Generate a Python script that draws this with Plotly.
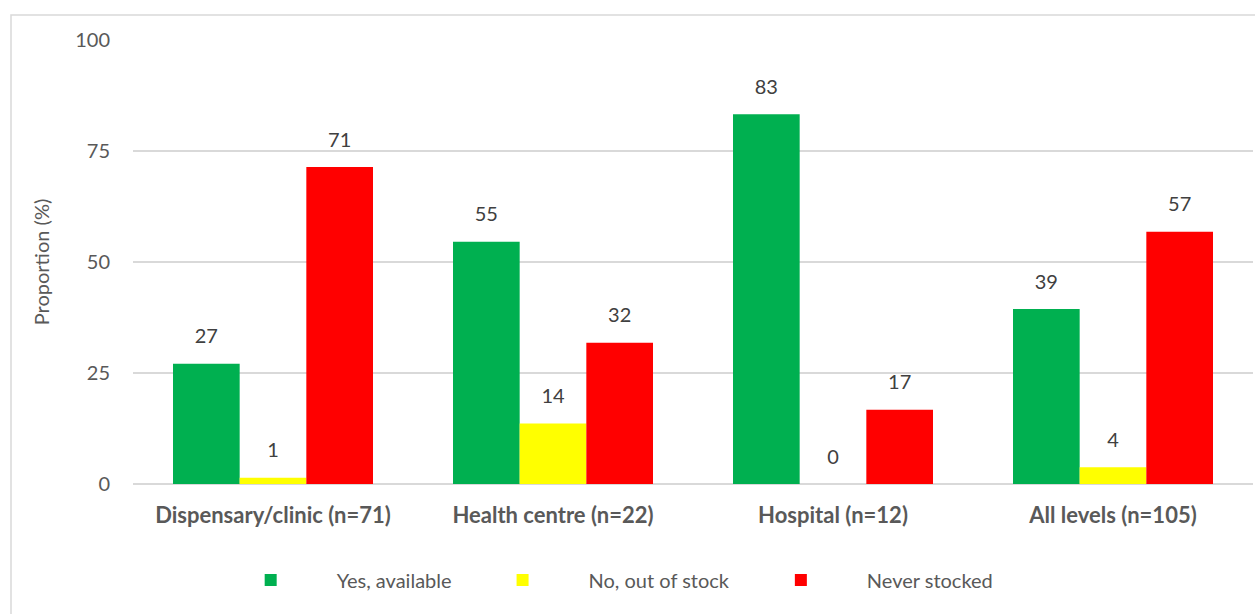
import plotly.graph_objects as go

# Facility levels and share of facilities (%) by stock status
categories = ["Dispensary/clinic (n=71)", "Health centre (n=22)", "Hospital (n=12)", "All levels (n=105)"]
series_names = ["Yes, available", "No, out of stock", "Never stocked"]
yes_available = [27.1, 54.55, 83.3, 39.4]
out_of_stock = [1.4, 13.6, 0.0, 3.8]
never_stocked = [71.4, 31.8, 16.7, 56.8]
series_values = [yes_available, out_of_stock, never_stocked]
series_colors = ["#00B050", "#FFFF00", "#FF0000"]
y_ticks = [0, 25, 50, 75, 100]

FONT = "Lato"
GREY = "#595959"
LABEL = "#404040"
GRID = "#D9D9D9"

fig = go.Figure()

for name, vals, color in zip(series_names, series_values, series_colors):
    fig.add_trace(go.Bar(
        x=categories, y=vals, name=name,
        marker=dict(color=color, line=dict(width=0)),
        offsetgroup=name,
    ))

# value labels, grouped the same way as the bars
for name, vals in zip(series_names, series_values):
    fig.add_trace(go.Scatter(
        x=categories, y=vals, mode="markers+text",
        text=[f"{v:.0f}" for v in vals], textposition="top center",
        textfont=dict(family=FONT, size=20, color=LABEL),
        marker=dict(size=23, opacity=0),
        offsetgroup=name, showlegend=False, hoverinfo="skip",
    ))

fig.update_layout(
    width=1255, height=614,
    margin=dict(l=133, r=2, t=40, b=130),
    paper_bgcolor="white", plot_bgcolor="white",
    barmode="group", bargap=0.2857, bargroupgap=0,
    scattermode="group", scattergap=0.2857,
    font=dict(family=FONT, color=GREY, size=20),
    showlegend=True,
    legend=dict(
        orientation="h", x=0.064, xanchor="left", y=-0.216, yanchor="middle",
        font=dict(family=FONT, size=20, color=GREY),
        itemwidth=122, traceorder="normal",
    ),
    xaxis=dict(
        type="category", showgrid=False, showline=False, ticks="",
        tickfont=dict(family=FONT, size=22, color=GREY, weight="bold"),
        ticklabelstandoff=16,
    ),
    yaxis=dict(
        range=[0, 100], tickvals=y_ticks, showgrid=True, gridcolor=GRID, gridwidth=1.5,
        zeroline=True, zerolinecolor=GRID, zerolinewidth=1.5,
        tickfont=dict(family=FONT, size=20, color=GREY), ticks="",
        ticklabelstandoff=22,
        title=dict(text="Proportion (%)", font=dict(family=FONT, size=20, color=GREY), standoff=20),
    ),
    shapes=[dict(
        type="rect", xref="paper", yref="paper",
        x0=(11 - 133) / 1120, x1=(1262 - 133) / 1120,
        y0=(484 - 625) / 444, y1=(484 - 15) / 444,
        line=dict(color=GRID, width=1.5), fillcolor="rgba(0,0,0,0)", layer="below",
    )],
)

fig.write_html("out.html")
